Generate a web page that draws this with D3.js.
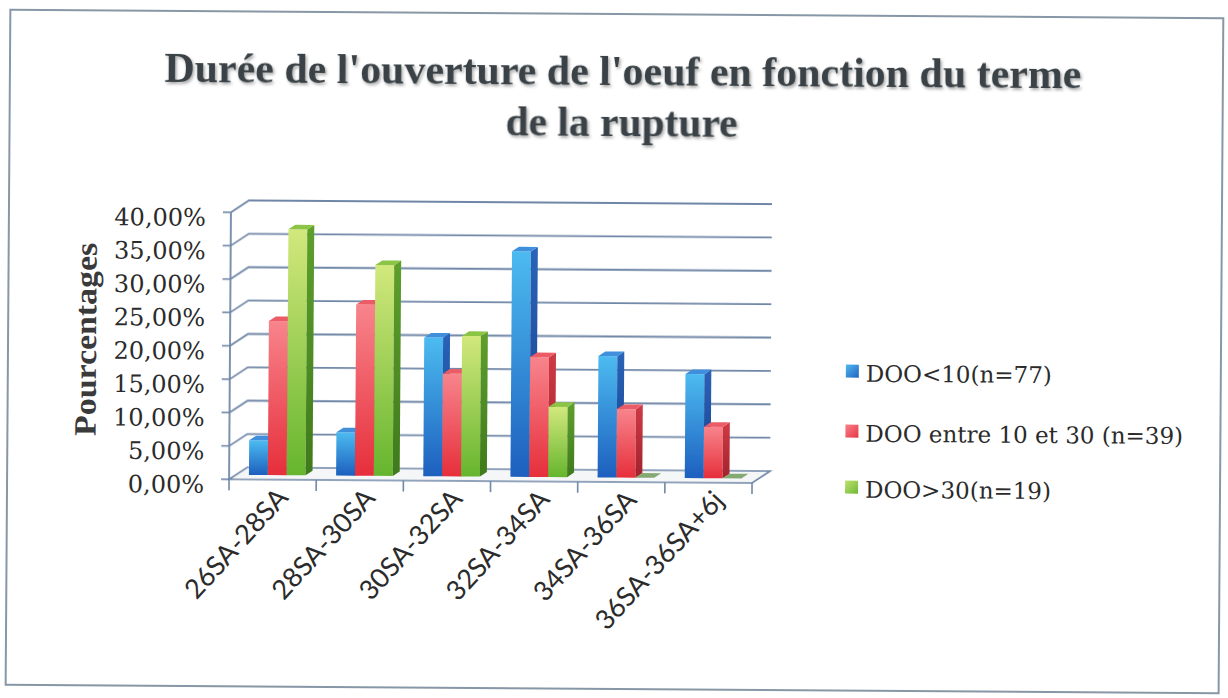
<!DOCTYPE html>
<html>
<head>
<meta charset="utf-8">
<script src="https://cdn.jsdelivr.net/npm/d3@7"></script>
<style>
html,body{margin:0;padding:0;background:#fff;}
svg{display:block;}
</style>
</head>
<body>
<svg id="chart" width="1228" height="698"></svg>
<script>
const categories = ["26SA-28SA","28SA-30SA","30SA-32SA","32SA-34SA","34SA-36SA","36SA-36SA+6j"];
const seriesNames = ["DOO<10(n=77)","DOO entre 10 et 30 (n=39)","DOO>30(n=19)"];
const valuesLt10 = [5.19, 6.49, 20.78, 33.77, 18.18, 15.58];
const values10to30 = [23.08, 25.64, 15.38, 17.95, 10.26, 7.69];
const valuesGt30 = [36.84, 31.58, 21.05, 10.53, 0, 0];
const yTickValues = [0, 5, 10, 15, 20, 25, 30, 35, 40];
const yTickLabels = ["0,00%","5,00%","10,00%","15,00%","20,00%","25,00%","30,00%","35,00%","40,00%"];
const titleLines = ["Durée de l'ouverture de l'oeuf en fonction du terme", "de la rupture"];
const yAxisTitle = "Pourcentages";

const seriesValues = [valuesLt10, values10to30, valuesGt30];

const svg = d3.select("#chart");
const defs = svg.append("defs");

const pal = [
  {front:["#4cbbf0","#1d5fbe"], side:["#2a63b8","#173f8c"], top:"#3f8fdc", key:["#52b8ee","#1f64c0"]},
  {front:["#f8848c","#e62f3b"], side:["#cf3a45","#a3222c"], top:"#ec5c66", key:["#f8808a","#e63744"]},
  {front:["#d2e87c","#66b52e"], side:["#5e9f2c","#3f7a1c"], top:"#8cc446", key:["#c2e070","#6cba34"]}
];
pal.forEach((p,i)=>{
  const g1 = defs.append("linearGradient").attr("id","gf"+i).attr("x1",0).attr("y1",0).attr("x2",0).attr("y2",1);
  g1.append("stop").attr("offset","0%").attr("stop-color",p.front[0]);
  g1.append("stop").attr("offset","100%").attr("stop-color",p.front[1]);
  const g2 = defs.append("linearGradient").attr("id","gs"+i).attr("x1",0).attr("y1",0).attr("x2",0).attr("y2",1);
  g2.append("stop").attr("offset","0%").attr("stop-color",p.side[0]);
  g2.append("stop").attr("offset","100%").attr("stop-color",p.side[1]);
  const g3 = defs.append("linearGradient").attr("id","gk"+i).attr("x1",0).attr("y1",0).attr("x2",1).attr("y2",1);
  g3.append("stop").attr("offset","0%").attr("stop-color",p.key[0]);
  g3.append("stop").attr("offset","100%").attr("stop-color",p.key[1]);
});
const shadow = defs.append("filter").attr("id","tshadow").attr("x","-5%").attr("y","-20%").attr("width","110%").attr("height","150%");
shadow.append("feDropShadow").attr("dx",1.5).attr("dy",2).attr("stdDeviation",1.6).attr("flood-color","#000").attr("flood-opacity",0.35);
const soft = defs.append("filter").attr("id","soft");
soft.append("feGaussianBlur").attr("stdDeviation",0.35);

const root = svg.append("g").attr("transform","rotate(0.4,614,349)");

root.append("rect").attr("x",8).attr("y",14).attr("width",1213).attr("height",675)
  .attr("fill","none").attr("stroke","#8797a6").attr("stroke-width",2);

const title = root.append("g").attr("filter","url(#tshadow)");
title.append("text").attr("x",621).attr("y",85).attr("text-anchor","middle")
  .attr("font-family","Liberation Serif, serif").attr("font-weight","bold").attr("font-size",43)
  .attr("fill","#3b4347").attr("textLength",917).attr("lengthAdjust","spacingAndGlyphs")
  .text(titleLines[0]);
title.append("text").attr("x",620).attr("y",136).attr("text-anchor","middle")
  .attr("font-family","Liberation Serif, serif").attr("font-weight","bold").attr("font-size",43)
  .attr("fill","#3b4347").attr("textLength",232).attr("lengthAdjust","spacingAndGlyphs")
  .text(titleLines[1]);

const depthX = 18, depthY = -12;
const x0 = d3.scaleBand().domain(categories).range([230, 753]);
const bw = x0.bandwidth();
const x1 = d3.scaleBand().domain(seriesNames).range([bw*0.15, bw*0.80]).padding(0);
const yF = d3.scaleLinear().domain([0, 40]).range([482, 215]);
const t0 = 0.375, t1 = 0.76;

const gridColor = "#6f86a6";
const grid = root.append("g").attr("filter","url(#soft)");

const fl = x0.range()[0], fr = x0.range()[1];
grid.append("path")
  .attr("d", `M${fl},${yF(0)} L${fr},${yF(0)} L${fr+depthX},${yF(0)+depthY} L${fl+depthX},${yF(0)+depthY} Z`)
  .attr("fill","#f4f6f8").attr("stroke",gridColor).attr("stroke-width",1.6);

yTickValues.forEach(v=>{
  if (v===0) return;
  grid.append("path")
    .attr("d", `M${fl},${yF(v)} L${fl+depthX},${yF(v)+depthY} L${fr+depthX},${yF(v)+depthY}`)
    .attr("fill","none").attr("stroke",gridColor).attr("stroke-width",1.8);
});
grid.append("line").attr("x1",fl).attr("x2",fl).attr("y1",yF(0)).attr("y2",yF(40))
  .attr("stroke",gridColor).attr("stroke-width",1.8);
yTickValues.forEach(v=>{
  grid.append("line").attr("x1",fl-8).attr("x2",fl).attr("y1",yF(v)).attr("y2",yF(v))
    .attr("stroke",gridColor).attr("stroke-width",1.6);
});
const boundaries = categories.map(c=>x0(c)).concat([fr]);
boundaries.forEach(bx=>{
  grid.append("line").attr("x1",bx).attr("x2",bx).attr("y1",yF(0)).attr("y2",yF(0)+11)
    .attr("stroke",gridColor).attr("stroke-width",1.6);
});

const ox0 = depthX*t0, oy0 = depthY*t0;
const ddx = depthX*(t1-t0), ddy = depthY*(t1-t0);
const bars = root.append("g");
const w = x1.bandwidth();
categories.forEach((c,ci)=>{
  seriesNames.forEach((s,si)=>{
    const v = seriesValues[si][ci];
    const x = x0(c) + x1(s) + ox0;
    const yt = yF(v) + oy0;
    const yb = yF(0) + oy0;
    const g = bars.append("g");
    if (v <= 0) {
      g.append("path")
        .attr("d", `M${x},${yb} L${x+w},${yb} L${x+w+ddx},${yb+ddy} L${x+ddx},${yb+ddy} Z`)
        .attr("fill","#5f8f45").attr("opacity",0.75);
      return;
    }
    g.append("rect").attr("x",x).attr("y",yt).attr("width",w).attr("height",yb-yt)
      .attr("fill",`url(#gf${si})`);
    g.append("path")
      .attr("d", `M${x+w},${yt} L${x+w+ddx},${yt+ddy} L${x+w+ddx},${yb+ddy} L${x+w},${yb} Z`)
      .attr("fill",`url(#gs${si})`);
    g.append("path")
      .attr("d", `M${x},${yt} L${x+w},${yt} L${x+w+ddx},${yt+ddy} L${x+ddx},${yt+ddy} Z`)
      .attr("fill",pal[si].top);
  });
});

root.append("g").selectAll("text").data(yTickValues).join("text")
  .attr("x",205).attr("y",d=>yF(d)+5).attr("dy","0.36em").attr("text-anchor","end")
  .attr("font-family","DejaVu Serif, serif").attr("font-size",24).attr("fill","#2b2b2b")
  .text((d,i)=>yTickLabels[i]);

root.append("text").attr("transform","translate(96,343) rotate(-90)").attr("text-anchor","middle")
  .attr("font-family","Liberation Serif, serif").attr("font-weight","bold").attr("font-size",31)
  .attr("fill","#3a3a3a").attr("textLength",193).attr("lengthAdjust","spacingAndGlyphs")
  .text(yAxisTitle);

root.append("g").selectAll("text").data(categories).join("text")
  .attr("transform",d=>`translate(${x0(d)+bw/2+17},${yF(0)+19}) rotate(-48)`)
  .attr("text-anchor","end")
  .attr("font-family","Lato, sans-serif").attr("font-size",27).attr("fill","#2b2b2b")
  .text(d=>d);

const legendY = [380, 440, 496];
const lg = root.append("g");
seriesNames.forEach((s,i)=>{
  lg.append("rect").attr("x",846).attr("y",legendY[i]-17).attr("width",13).attr("height",13)
    .attr("fill",`url(#gk${i})`);
  lg.append("text").attr("x",866).attr("y",legendY[i])
    .attr("font-family","DejaVu Serif, serif").attr("font-size",23).attr("fill","#2b2b2b")
    .text(s);
});
</script>
</body>
</html>
